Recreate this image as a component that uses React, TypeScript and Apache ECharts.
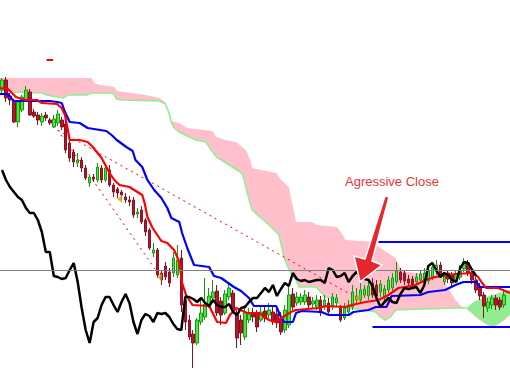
import React, { useEffect, useRef } from "react";
import * as echarts from "echarts";

// ---------- data (prices) ----------
const categories = Array.from({ length: 128 }, (_, i) => `Bar ${i + 1}`);

const opens = [1.910,1.920,1.904,1.899,1.878,1.890,1.900,1.908,1.888,1.885,
1.878,1.885,1.880,1.873,1.877,1.880,1.876,1.857,1.848,1.837,
1.840,1.832,1.817,1.823,1.820,1.832,1.820,1.830,1.815,1.811,
1.808,1.803,1.800,1.800,1.786,1.790,1.780,1.770,1.747,1.750,
1.727,1.734,1.728,1.727,1.725,1.742,1.700,1.680,1.666,1.657,
1.678,1.683,1.695,1.702,1.709,1.699,1.687,1.703,1.707,1.685,
1.680,1.663,1.680,1.687,1.687,1.680,1.689,1.685,1.688,1.686,
1.682,1.670,1.675,1.706,1.697,1.698,1.698,1.703,1.696,1.693,
1.700,1.693,1.697,1.693,1.697,1.692,1.682,1.688,1.693,1.700,
1.700,1.705,1.704,1.717,1.715,1.708,1.703,1.710,1.712,1.718,
1.728,1.727,1.721,1.721,1.718,1.720,1.717,1.719,1.723,1.728,
1.735,1.718,1.727,1.725,1.720,1.723,1.731,1.737,1.727,1.720,
1.713,1.705,1.692,1.695,1.702,1.700,1.695];

const closes = [1.920,1.902,1.900,1.878,1.898,1.903,1.910,1.885,1.884,1.880,
1.884,1.882,1.877,1.881,1.886,1.873,1.850,1.842,1.838,1.840,
1.832,1.822,1.823,1.821,1.833,1.820,1.832,1.815,1.808,1.807,
1.805,1.800,1.798,1.785,1.788,1.778,1.768,1.752,1.750,1.725,
1.720,1.723,1.717,1.742,1.740,1.695,1.678,1.663,1.657,1.680,
1.687,1.696,1.704,1.708,1.687,1.685,1.706,1.712,1.691,1.662,
1.667,1.688,1.686,1.683,1.673,1.688,1.682,1.690,1.678,1.677,
1.668,1.690,1.705,1.693,1.703,1.703,1.705,1.695,1.699,1.700,
1.687,1.700,1.688,1.703,1.702,1.680,1.692,1.695,1.708,1.704,
1.710,1.711,1.714,1.705,1.704,1.716,1.711,1.720,1.722,1.729,
1.720,1.719,1.717,1.715,1.723,1.726,1.727,1.730,1.733,1.735,
1.726,1.724,1.721,1.717,1.726,1.729,1.738,1.727,1.720,1.710,
1.704,1.694,1.698,1.702,1.695,1.693,1.705];

const highs = [1.922,1.923,1.907,1.901,1.900,1.905,1.914,1.911,1.891,1.888,
1.887,1.888,1.882,1.885,1.890,1.883,1.880,1.860,1.851,1.847,
1.843,1.835,1.825,1.826,1.837,1.835,1.837,1.835,1.817,1.813,
1.810,1.807,1.804,1.803,1.792,1.794,1.782,1.772,1.757,1.752,
1.730,1.738,1.732,1.748,1.755,1.750,1.705,1.685,1.670,1.682,
1.700,1.722,1.712,1.720,1.715,1.703,1.710,1.718,1.710,1.690,
1.685,1.695,1.692,1.692,1.690,1.695,1.694,1.697,1.693,1.691,
1.688,1.695,1.713,1.712,1.708,1.707,1.710,1.708,1.703,1.705,
1.704,1.705,1.702,1.707,1.706,1.695,1.697,1.700,1.715,1.712,
1.717,1.715,1.718,1.722,1.720,1.720,1.715,1.724,1.727,1.738,
1.732,1.730,1.725,1.724,1.727,1.730,1.732,1.735,1.738,1.740,
1.738,1.728,1.730,1.728,1.730,1.735,1.742,1.740,1.730,1.723,
1.717,1.708,1.702,1.705,1.705,1.703,1.710];

const lows = [1.905,1.898,1.895,1.877,1.873,1.888,1.898,1.884,1.882,1.875,
1.874,1.879,1.875,1.872,1.874,1.870,1.847,1.838,1.833,1.833,
1.828,1.820,1.813,1.818,1.818,1.817,1.818,1.813,1.803,1.802,
1.800,1.797,1.794,1.782,1.782,1.776,1.764,1.750,1.743,1.722,
1.715,1.720,1.713,1.723,1.722,1.688,1.670,1.660,1.632,1.655,
1.675,1.680,1.692,1.700,1.684,1.675,1.685,1.700,1.688,1.652,
1.655,1.660,1.677,1.678,1.668,1.678,1.678,1.682,1.675,1.672,
1.665,1.667,1.672,1.690,1.694,1.695,1.695,1.692,1.692,1.690,
1.684,1.690,1.686,1.690,1.694,1.678,1.680,1.685,1.690,1.697,
1.697,1.702,1.700,1.702,1.700,1.703,1.700,1.707,1.708,1.715,
1.717,1.715,1.713,1.711,1.715,1.717,1.714,1.716,1.720,1.725,
1.722,1.715,1.717,1.714,1.717,1.720,1.728,1.724,1.716,1.707,
1.700,1.682,1.688,1.691,1.690,1.690,1.692];

// Chikou span: one value per bar (bars 1..120)
const chikou = [1.830,1.820,1.813,1.808,1.803,1.800,1.792,1.787,1.787,1.780,
1.768,1.748,1.748,1.724,1.723,1.721,1.722,1.730,1.737,1.718,
1.692,1.670,1.657,1.678,1.682,1.695,1.703,1.703,1.695,1.688,
1.698,1.706,1.697,1.678,1.666,1.680,1.686,1.684,1.678,1.687,
1.686,1.687,1.683,1.676,1.671,1.670,1.703,1.703,1.701,1.698,
1.702,1.697,1.694,1.700,1.695,1.693,1.693,1.696,1.688,1.685,
1.692,1.693,1.698,1.702,1.702,1.707,1.712,1.708,1.715,1.704,
1.711,1.717,1.714,1.727,1.721,1.719,1.720,1.718,1.719,1.720,
1.720,1.717,1.732,1.730,1.723,1.724,1.727,1.718,1.724,1.728,
1.724,1.721,1.720,1.714,1.702,1.693,1.698,1.702,1.698,1.697,
1.706,1.712,1.711,1.712,1.713,1.707,1.715,1.734,1.737,1.730,
1.723,1.727,1.725,1.720,1.718,1.732,1.738,1.737,1.730,1.724];

// Tenkan-sen [bar, price]
const tenkan = [[-0.5,1.912],[1.5,1.911],[2.5,1.907],[3.5,1.903],[5.8,1.900],[8.8,1.900],
[10,1.897],[13.8,1.896],[15,1.892],[15.8,1.885],[17,1.860],[19.5,1.860],[21.5,1.858],
[22.8,1.853],[24,1.847],[25,1.842],[27,1.827],[28.2,1.820],[29.5,1.815],[32,1.813],
[34,1.808],[35.2,1.805],[35.8,1.797],[36.5,1.783],[37.8,1.772],[40,1.759],[41.5,1.757],
[43.2,1.750],[44.5,1.738],[45.2,1.717],[46.2,1.705],[47.8,1.695],[52,1.694],[54,1.678],
[56.2,1.677],[57.2,1.685],[58.8,1.692],[61.5,1.687],[64.5,1.687],[67,1.680],[68.8,1.678],
[70.2,1.682],[72.5,1.688],[73.8,1.690],[79.5,1.692],[81.2,1.694],[86.2,1.693],[87.8,1.695],
[91.2,1.698],[94.5,1.700],[97,1.705],[99.5,1.712],[103.8,1.715],[106.2,1.720],[108.8,1.723],
[113.8,1.726],[118.2,1.727],[119.5,1.723],[120.5,1.717],[121.5,1.712],[124.5,1.712],[127.5,1.707]];

// Kijun-sen [bar, price]
const kijun = [[-0.5,1.906],[1.5,1.906],[2.5,1.901],[3,1.899],[12,1.899],[13.8,1.898],
[15,1.897],[15.8,1.888],[17,1.878],[19.5,1.877],[21.5,1.872],[26.2,1.869],[27.5,1.865],
[28.8,1.860],[31.2,1.853],[32.8,1.849],[33.5,1.840],[35.2,1.833],[36.5,1.820],[38.2,1.810],
[40,1.802],[41.5,1.792],[42.5,1.782],[44.5,1.778],[45.2,1.767],[46.5,1.752],[48.2,1.735],
[52,1.733],[53.2,1.724],[55,1.722],[58.2,1.713],[60,1.709],[62,1.702],[63.2,1.694],
[68.8,1.694],[70,1.683],[70.8,1.678],[73,1.678],[73.8,1.687],[75.2,1.689],[80.2,1.688],
[82,1.685],[87,1.685],[88.2,1.688],[92,1.690],[93.8,1.693],[96.5,1.693],[97.8,1.704],
[105,1.705],[107,1.708],[111.2,1.710],[113.8,1.715],[115.8,1.718],[119,1.718],[120,1.713],
[127.5,1.713]];

// Kumo boundaries [bar, price]
const cloudTop = [[-0.5,1.922],[22.5,1.922],[23.2,1.917],[24.5,1.915],[28.2,1.913],[28.8,1.909],
[32.5,1.907],[36.2,1.905],[39.5,1.902],[41,1.898],[42,1.888],[42.5,1.879],[44.5,1.877],
[46.5,1.872],[52.8,1.869],[53.8,1.863],[56.2,1.860],[58.8,1.858],[60.2,1.853],[61.2,1.850],
[62.5,1.838],[62.8,1.832],[65,1.830],[68.8,1.827],[70,1.820],[72,1.813],[73.8,1.778],
[77.8,1.778],[79,1.775],[84,1.773],[85.2,1.767],[86.2,1.760],[93.8,1.758],[94.5,1.753],
[96.5,1.748],[98.8,1.742],[100.2,1.730],[101.5,1.728],[110.2,1.725],[111.2,1.717],
[112,1.712],[113.8,1.700],[115.2,1.694],[116.5,1.692]];

const cloudBottom = [[-0.5,1.910],[2.5,1.908],[10.2,1.907],[11.2,1.905],[13.8,1.903],[15,1.902],
[15.8,1.903],[16.5,1.905],[21.2,1.905],[22.5,1.907],[27.5,1.907],[28.2,1.905],[28.8,1.901],
[30,1.900],[39.5,1.899],[41,1.896],[42,1.886],[42.5,1.878],[43,1.873],[44.5,1.868],
[47,1.863],[48.8,1.860],[51.2,1.858],[52.5,1.850],[53.8,1.843],[56.2,1.837],[57.8,1.833],
[60.2,1.827],[60.8,1.820],[61.5,1.808],[62.8,1.790],[65,1.782],[66.5,1.777],[68.8,1.768],
[69.5,1.765],[70.8,1.743],[71.5,1.735],[72.8,1.725],[73.8,1.720],[74.5,1.713],[78.8,1.713],
[79.5,1.710],[81.2,1.703],[82.8,1.702],[84.5,1.697],[85.2,1.693],[91.2,1.690],[93.8,1.688],
[95,1.683],[96.2,1.680],[97.5,1.683],[98.8,1.690],[113.8,1.692],[116.5,1.692]];

const bullTop = [[116.5,1.692],[118.8,1.699],[120.8,1.702],[123.8,1.706],[127.5,1.710]];
const bullBottom = [[116.5,1.692],[119,1.683],[121.5,1.676],[123.2,1.673],[125,1.677],[127.5,1.685]];

// drawings
const trendLineShallow = [[14, 1.870], [90, 1.700]];
const trendLineSteep = [[14, 1.870], [40, 1.722]];
const pivotLevel = 1.727;
const upperBox = [[94.5, 1.758], [127.5, 1.758]];
const lowerBox = [[93, 1.673], [127.5, 1.673]];
const fractalMarks = [[29.5, 1.801], [39.5, 1.723], [89.2, 1.702]];
const topMark = [[11.2, 1.940], [12.8, 1.940]];
const annotationText = "Agressive Close";

export default function App() {
  const ref = useRef<HTMLDivElement>(null);

  useEffect(() => {
    if (!ref.current) return;
    const chart = echarts.init(ref.current, undefined, { renderer: "svg" });
    const candles = opens.map((o, i) => [o, closes[i], lows[i], highs[i]]);

    const lineBase = {
      type: "line",
      xAxisIndex: 1,
      yAxisIndex: 0,
      symbol: "none",
      silent: true,
      animation: false,
    };

    chart.setOption({
      animation: false,
      backgroundColor: "#ffffff",
      grid: { left: 0, right: -2, top: 0, bottom: 0 },
      xAxis: [
        { type: "category", data: categories, show: false, boundaryGap: true },
        { type: "value", min: -0.5, max: 127.5, show: false },
      ],
      yAxis: { type: "value", min: 1.622, max: 2.0, show: false, splitLine: { show: false } },
      series: [
        {
          type: "custom",
          xAxisIndex: 1,
          yAxisIndex: 0,
          silent: true,
          z: 1,
          data: [[0, 1.8]],
          renderItem: (params: any, api: any) => {
            const pts = (arr: number[][]) => arr.map((p) => api.coord(p));
            const pink = pts(cloudTop).concat(pts(cloudBottom).reverse());
            const green = pts(bullTop).concat(pts(bullBottom).reverse());
            return {
              type: "group",
              children: [
                { type: "polygon", shape: { points: pink }, style: { fill: "#FFC0CB", stroke: null } },
                { type: "polygon", shape: { points: green }, style: { fill: "#90EE90", stroke: null } },
                { type: "polyline", shape: { points: pts(cloudBottom) }, style: { stroke: "#90EE90", lineWidth: 1.5, fill: null } },
                { type: "polyline", shape: { points: pts(bullBottom) }, style: { stroke: "#FFC0CB", lineWidth: 1, fill: null } },
              ],
            };
          },
        },
        {
          ...lineBase,
          name: "pivot",
          data: [],
          z: 2,
          markLine: {
            silent: true,
            symbol: ["none", "none"],
            label: { show: false },
            lineStyle: { color: "#808080", width: 1, type: "solid" },
            data: [{ yAxis: pivotLevel }],
          },
        },
        { ...lineBase, data: trendLineShallow, z: 2, lineStyle: { color: "#FF0000", width: 1, type: [2, 4] } },
        { ...lineBase, data: trendLineSteep, z: 2, lineStyle: { color: "#FF0000", width: 1, type: [2, 4] } },
        { ...lineBase, data: topMark, z: 2, lineStyle: { color: "#FF0000", width: 2 } },
        {
          type: "candlestick",
          xAxisIndex: 0,
          yAxisIndex: 0,
          data: candles,
          barWidth: 3,
          z: 3,
          itemStyle: {
            color: "#4BE83A",
            color0: "#B3162D",
            borderColor: "#139A13",
            borderColor0: "#8C1020",
            borderWidth: 1,
          },
        },
        { ...lineBase, data: kijun, z: 4, lineStyle: { color: "#0000FF", width: 2.2 } },
        { ...lineBase, data: tenkan, z: 4, lineStyle: { color: "#FF0000", width: 2.2 } },
        {
          type: "line",
          xAxisIndex: 0,
          yAxisIndex: 0,
          data: chikou,
          symbol: "none",
          z: 4,
          lineStyle: { color: "#000000", width: 2.5 },
        },
        { ...lineBase, data: upperBox, z: 5, lineStyle: { color: "#0000FF", width: 2 } },
        { ...lineBase, data: lowerBox, z: 5, lineStyle: { color: "#0000FF", width: 2 } },
        {
          type: "scatter",
          xAxisIndex: 1,
          yAxisIndex: 0,
          data: fractalMarks,
          symbol: "triangle",
          symbolRotate: 90,
          symbolSize: [8, 5],
          itemStyle: { color: "#D9A21B" },
          z: 5,
          silent: true,
        },
      ],
      graphic: [
        {
          type: "polygon",
          z: 100,
          shape: {
            points: [[385, 196], [389, 197], [372, 261], [382, 265], [360, 282], [354, 256], [365, 259]],
          },
          style: { fill: "#E8262E", stroke: "#FFFFFF", lineWidth: 1.5 },
        },
        {
          type: "text",
          z: 100,
          x: 345,
          y: 181,
          style: {
            text: annotationText,
            fill: "#E8363E",
            fontSize: 13,
            fontFamily: "Liberation Sans, Arial, sans-serif",
            verticalAlign: "middle",
          },
        },
      ],
    });

    return () => chart.dispose();
  }, []);

  return (
    <div
      ref={ref}
      style={{ position: "fixed", left: 0, top: 0, width: 510, height: 378, background: "#fff" }}
    />
  );
}
